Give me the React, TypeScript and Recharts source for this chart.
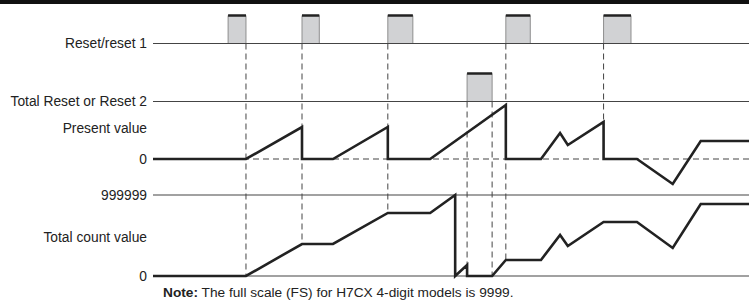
import React from 'react';
import { ComposedChart, Line, XAxis, YAxis, ReferenceLine, ReferenceArea } from 'recharts';

// time axis in arbitrary units (0..100)
const reset1Pulses = [
  [12.6, 15.6],
  [25.0, 27.9],
  [39.4, 43.6],
  [59.2, 63.3],
  [75.6, 80.2],
];
const reset2Pulses = [[52.7, 56.9]];

const presentValue = [
  { t: 0, v: 0 }, { t: 15.6, v: 0 }, { t: 25.0, v: 32 }, { t: 25.0, v: 0 },
  { t: 30.2, v: 0 }, { t: 39.4, v: 32 }, { t: 39.4, v: 0 }, { t: 46.5, v: 0 },
  { t: 59.2, v: 54 }, { t: 59.2, v: 0 }, { t: 65.1, v: 0 }, { t: 68.3, v: 26 },
  { t: 69.6, v: 14 }, { t: 75.6, v: 37 }, { t: 75.6, v: 0 }, { t: 81.2, v: 0 },
  { t: 87.2, v: -25 }, { t: 91.9, v: 18 }, { t: 100, v: 18 },
];

const totalCount = [
  { t: 0, v: 0 }, { t: 15.6, v: 0 }, { t: 25.0, v: 395000 }, { t: 30.2, v: 395000 },
  { t: 39.4, v: 778000 }, { t: 46.5, v: 778000 }, { t: 50.7, v: 999999 }, { t: 50.7, v: 0 },
  { t: 52.7, v: 136000 }, { t: 52.7, v: 0 }, { t: 56.9, v: 0 }, { t: 59.2, v: 198000 },
  { t: 65.1, v: 198000 }, { t: 68.3, v: 506000 }, { t: 69.6, v: 370000 }, { t: 75.6, v: 667000 },
  { t: 81.2, v: 667000 }, { t: 87.2, v: 346000 }, { t: 91.9, v: 889000 }, { t: 100, v: 889000 },
];

// dashed guides: time, start on one signal, end on another
const guides = [
  { t: 15.6, from: ['r1', 0], to: ['tc', 0] },
  { t: 25.0, from: ['r1', 0], to: ['tc', 395000] },
  { t: 39.4, from: ['r1', 0], to: ['tc', 778000] },
  { t: 52.7, from: ['r2', 0], to: ['tc', 0] },
  { t: 56.9, from: ['r2', 0], to: ['tc', 0] },
  { t: 59.2, from: ['r1', 0], to: ['tc', 198000] },
  { t: 75.6, from: ['r1', 0], to: ['pv', 37] },
];

const W = 749;
const H = 300;
const LEFT = 153;

// domain so that value a sits at pixel ya and value b at pixel yb
function band(a: number, ya: number, b: number, yb: number): [number, number] {
  const k = (ya - yb) / (b - a);
  return [a - (H - ya) / k, b + yb / k];
}

const domains: Record<string, [number, number]> = {
  r1: band(0, 43.5, 1, 15.5),
  r2: band(0, 101.5, 1, 73.5),
  pv: band(0, 159, 54, 105),
  tc: band(0, 276, 999999, 195),
};

function convert(v: number, from: string, to: string) {
  const a = domains[from];
  const b = domains[to];
  const f = (v - a[0]) / (a[1] - a[0]);
  return b[0] + f * (b[1] - b[0]);
}

const ink = '#222';
const base = '#444';
const lbl = (value: string) => ({ value, position: 'left' as const, offset: 6, fill: ink, fontSize: 13.8 });

export default function App() {
  return (
    <div style={{ position: 'relative', width: W, height: H, fontFamily: '"Liberation Sans", Arial, sans-serif', background: '#fff', overflow: 'hidden', borderTop: '4px solid #111', boxSizing: 'border-box' }}>
      <style>{'html,body{margin:0;padding:0}'}</style>
      <div style={{ position: 'absolute', left: 0, top: -4 }}>
        <ComposedChart width={W} height={H} margin={{ top: 0, right: 0, bottom: 0, left: LEFT }}>
          <XAxis type="number" dataKey="t" domain={[0, 100]} allowDataOverflow hide />
          {Object.keys(domains).map((id) => (
            <YAxis key={id} yAxisId={id} type="number" domain={domains[id]} allowDataOverflow hide />
          ))}

          <ReferenceLine yAxisId="r1" y={0} stroke={base} strokeWidth={1.2} label={lbl('Reset/reset 1')} />
          <ReferenceLine yAxisId="r2" y={0} stroke={base} strokeWidth={1.2} label={lbl('Total Reset or Reset 2')} />
          <ReferenceLine yAxisId="pv" y={31} stroke="none" label={lbl('Present value')} />
          <ReferenceLine yAxisId="pv" y={0} stroke={base} strokeWidth={1.2} strokeDasharray="6 4" label={lbl('0')} />
          <ReferenceLine yAxisId="tc" y={999999} stroke={base} strokeWidth={1.2} label={lbl('999999')} />
          <ReferenceLine yAxisId="tc" y={481000} stroke="none" label={lbl('Total count value')} />
          <ReferenceLine yAxisId="tc" y={0} stroke={base} strokeWidth={1.2} label={lbl('0')} />

          {reset1Pulses.map(([s, e], i) => (
            <ReferenceArea key={`r1-${i}`} yAxisId="r1" x1={s} x2={e} y1={0} y2={1} fill="#d1d2d4" fillOpacity={1} stroke="#8e8e8e" strokeWidth={1} />
          ))}
          {reset1Pulses.map(([s, e], i) => (
            <ReferenceLine key={`r1t-${i}`} yAxisId="r1" segment={[{ x: s, y: 1 }, { x: e, y: 1 }]} stroke={ink} strokeWidth={2.5} />
          ))}
          {reset2Pulses.map(([s, e], i) => (
            <ReferenceArea key={`r2-${i}`} yAxisId="r2" x1={s} x2={e} y1={0} y2={1} fill="#d1d2d4" fillOpacity={1} stroke="#8e8e8e" strokeWidth={1} />
          ))}
          {reset2Pulses.map(([s, e], i) => (
            <ReferenceLine key={`r2t-${i}`} yAxisId="r2" segment={[{ x: s, y: 1 }, { x: e, y: 1 }]} stroke={ink} strokeWidth={2.5} />
          ))}

          {guides.map((g, i) => (
            <ReferenceLine
              key={`g-${i}`}
              yAxisId={g.to[0] as string}
              segment={[
                { x: g.t, y: convert(g.from[1] as number, g.from[0] as string, g.to[0] as string) },
                { x: g.t, y: g.to[1] as number },
              ]}
              stroke={base}
              strokeWidth={1}
              strokeDasharray="6 4"
            />
          ))}

          <Line yAxisId="pv" data={presentValue} dataKey="v" type="linear" stroke={ink} strokeWidth={2.6} dot={false} activeDot={false} isAnimationActive={false} />
          <Line yAxisId="tc" data={totalCount} dataKey="v" type="linear" stroke={ink} strokeWidth={2.6} dot={false} activeDot={false} isAnimationActive={false} />
        </ComposedChart>
      </div>
      <div style={{ position: 'absolute', left: 163, top: 282, fontSize: 13.7, lineHeight: '14px', color: ink, whiteSpace: 'nowrap' }}>
        <b>Note:</b> The full scale (FS) for H7CX 4-digit models is 9999.
      </div>
    </div>
  );
}
